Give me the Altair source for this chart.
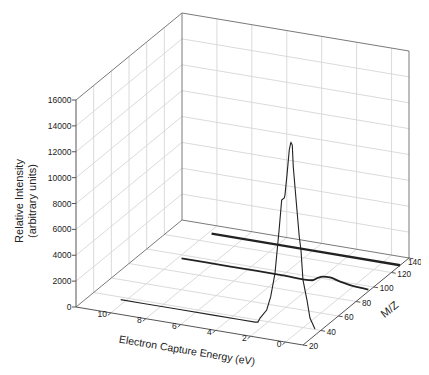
import altair as alt
import numpy as np
import pandas as pd

# ---------------- data ----------------
E_MAX, E_MIN = 12, -1          # energy axis runs from 12 (left) to -1 (right)
M_MIN, M_MAX = 20, 140
I_MIN, I_MAX = 0, 16000

energy_ticks = [10, 8, 6, 4, 2, 0]
mz_ticks = [20, 40, 60, 80, 100, 120, 140]
intensity_ticks = [0, 2000, 4000, 6000, 8000, 10000, 12000, 14000, 16000]

# front trace (large resonance)
s1_mz = 37
s1_energy = [10.3, 9.0, 7.0, 5.0, 3.5, 2.6, 2.44, 2.32, 1.94, 1.71, 1.465, 1.229,
             1.081, 0.933, 0.893, 0.778, 0.647, 0.566, 0.549, 0.474, 0.417, 0.320,
             0.222, 0.074, -0.024, -0.138, -0.367, -0.539, -0.826]
s1_intensity = [0, 0, 0, 0, 0, 0, 40, 380, 1090, 2170, 4030, 7430,
                9780, 9970, 10210, 11780, 13750, 14300, 14350, 14170, 12510, 10980,
                9460, 7170, 6170, 3880, 2380, 1030, 240]

# middle trace (small bump)
s2_mz = 96
s2_energy = [9.8, 7.0, 4.0, 2.3, 2.0, 1.7, 1.3, 0.72, 0.15, -0.42, -0.9]
s2_intensity = [0, 0, 0, 0, 250, 410, 440, 250, 116, 40, 0]

# back trace (flat)
s3_mz = 130
s3_energy = [9.8, 4.0, -1.0]
s3_intensity = [0, 0, 0]

# ---------------- view (oblique projection) parameters ----------------
ORIGIN = (76.0, 307.0)      # corner E_MAX, M_MIN, I_MIN
E_AXIS = (227.0, 38.0)      # full energy span
M_AXIS = (106.0, -87.0)     # full M/Z span
I_AXIS = (0.0, -207.0)      # full intensity span


def project(E, M, I):
    E = np.asarray(E, float)
    M = np.asarray(M, float)
    I = np.asarray(I, float)
    a = (E_MAX - E) / (E_MAX - E_MIN)
    b = (M - M_MIN) / (M_MAX - M_MIN)
    c = (I - I_MIN) / (I_MAX - I_MIN)
    x = ORIGIN[0] + a * E_AXIS[0] + b * M_AXIS[0] + c * I_AXIS[0]
    y = ORIGIN[1] + a * E_AXIS[1] + b * M_AXIS[1] + c * I_AXIS[1]
    return x, y


def segs(rows, kind):
    out = []
    for (e1, m1, i1, e2, m2, i2) in rows:
        x1, y1 = project(e1, m1, i1)
        x2, y2 = project(e2, m2, i2)
        out.append(dict(x=float(x1), y=float(y1), x2=float(x2), y2=float(y2), kind=kind))
    return out


grid = []
for e in energy_ticks:
    grid.append((e, M_MIN, I_MIN, e, M_MAX, I_MIN))          # floor
    grid.append((e, M_MAX, I_MIN, e, M_MAX, I_MAX))          # back wall
for m in mz_ticks[1:-1]:
    grid.append((E_MAX, m, I_MIN, E_MIN, m, I_MIN))          # floor
    grid.append((E_MAX, m, I_MIN, E_MAX, m, I_MAX))          # left wall
for i in intensity_ticks[1:-1]:
    grid.append((E_MAX, M_MIN, i, E_MAX, M_MAX, i))          # left wall
    grid.append((E_MAX, M_MAX, i, E_MIN, M_MAX, i))          # back wall

edges = [
    (E_MAX, M_MAX, I_MIN, E_MAX, M_MAX, I_MAX),
    (E_MAX, M_MIN, I_MAX, E_MAX, M_MAX, I_MAX),
    (E_MAX, M_MAX, I_MAX, E_MIN, M_MAX, I_MAX),
    (E_MIN, M_MAX, I_MIN, E_MIN, M_MAX, I_MAX),
    (E_MAX, M_MIN, I_MIN, E_MAX, M_MAX, I_MIN),
    (E_MAX, M_MAX, I_MIN, E_MIN, M_MAX, I_MIN),
]
axes = [
    (E_MAX, M_MIN, I_MIN, E_MAX, M_MIN, I_MAX),
    (E_MAX, M_MIN, I_MIN, E_MIN, M_MIN, I_MIN),
    (E_MIN, M_MIN, I_MIN, E_MIN, M_MAX, I_MIN),
]
ticks = []
for e in energy_ticks:
    ticks.append((e, M_MIN, I_MIN, e, M_MIN - 3.5, I_MIN))
for m in mz_ticks:
    ticks.append((E_MIN, m, I_MIN, E_MIN - 0.25, m, I_MIN))

seg_df = pd.DataFrame(segs(grid, "grid") + segs(edges, "edge") + segs(axes, "axis") + segs(ticks, "tick"))

# intensity ticks (horizontal, pointing left)
zt = []
for i in intensity_ticks:
    x, y = project(E_MAX, M_MIN, i)
    zt.append(dict(x=float(x), y=float(y), x2=float(x) - 4, y2=float(y), kind="tick"))
seg_df = pd.concat([seg_df, pd.DataFrame(zt)], ignore_index=True)


def series_df(energy, intensity, mz):
    x, y = project(energy, [mz] * len(energy), intensity)
    return pd.DataFrame({"x": x, "y": y, "idx": range(len(energy))})


s1_df = series_df(s1_energy, s1_intensity, s1_mz)
s2_df = series_df(s2_energy, s2_intensity, s2_mz)
s3_df = series_df(s3_energy, s3_intensity, s3_mz)

# tick labels
ex, ey = project(energy_ticks, [M_MIN] * len(energy_ticks), [I_MIN] * len(energy_ticks))
e_lab = pd.DataFrame({"x": ex - 4, "y": ey + 1.5, "t": [str(v) for v in energy_ticks]})
mx, my = project([E_MIN] * len(mz_ticks), mz_ticks, [I_MIN] * len(mz_ticks))
m_dx = np.array([6.0] * (len(mz_ticks) - 1) + [-1.0])   # last label tucked in to stay on the page
m_dy = np.array([2.0] * (len(mz_ticks) - 1) + [4.5])
m_lab = pd.DataFrame({"x": mx + m_dx, "y": my + m_dy, "t": [str(v) for v in mz_ticks]})
zx, zy = project([E_MAX] * len(intensity_ticks), [M_MIN] * len(intensity_ticks), intensity_ticks)
z_lab = pd.DataFrame({"x": zx - 4.5, "y": zy, "t": [str(v) for v in intensity_ticks]})

FONT = "Liberation Sans"
W, H = 413, 359
xs = alt.Scale(domain=[8, 8 + W], nice=False, zero=False)
ys = alt.Scale(domain=[8, 8 + H], nice=False, zero=False, reverse=True)


def XY(extra=True):
    enc = dict(x=alt.X("x:Q", scale=xs, axis=None), y=alt.Y("y:Q", scale=ys, axis=None))
    if extra:
        enc.update(x2="x2:Q", y2="y2:Q")
    return enc


def rule_layer(kind, color, width):
    return alt.Chart(seg_df).transform_filter(alt.datum.kind == kind).mark_rule(
        color=color, strokeWidth=width).encode(**XY())


layers = [
    rule_layer("grid", "#d6d6d6", 0.9),
    rule_layer("edge", "#7a7a7a", 1.0),
    rule_layer("axis", "#555555", 1.0),
    rule_layer("tick", "#555555", 1.0),
    alt.Chart(s3_df).mark_line(color="#222222", strokeWidth=2.3).encode(
        order="idx:Q", **XY(False)),
    alt.Chart(s2_df).mark_line(color="#222222", strokeWidth=1.8, interpolate="monotone").encode(
        order="idx:Q", **XY(False)),
    alt.Chart(s1_df).mark_line(color="#222222", strokeWidth=1.1).encode(
        order="idx:Q", **XY(False)),
    alt.Chart(e_lab).mark_text(font=FONT, fontSize=8.5, align="right", baseline="middle",
                               color="#222222").encode(text="t:N", **XY(False)),
    alt.Chart(m_lab).mark_text(font=FONT, fontSize=8.3, align="left", baseline="middle",
                               color="#222222").encode(text="t:N", **XY(False)),
    alt.Chart(z_lab).mark_text(font=FONT, fontSize=8.5, align="right", baseline="middle",
                               color="#222222").encode(text="t:N", **XY(False)),
]

titles = pd.DataFrame([
    dict(x=20, y=201, t="Relative Intensity", a=270, s=11),
    dict(x=33, y=201, t="(arbitrary units)", a=270, s=11),
    dict(x=187, y=351, t="Electron Capture Energy (eV)", a=9.5, s=10.5),
    dict(x=390, y=310, t="M/Z", a=321, s=11),
])
for _, r in titles.iterrows():
    layers.append(
        alt.Chart(pd.DataFrame([r])).mark_text(font=FONT, fontSize=float(r["s"]), align="center",
                                                baseline="middle", angle=float(r["a"]),
                                                color="#222222").encode(text="t:N", **XY(False))
    )

chart = alt.layer(*layers).properties(
    width=W, height=H, padding=0,
    autosize=alt.AutoSizeParams(type="none"),
).configure_view(stroke=None)

chart.save("out.html", embed_options={"renderer": "svg", "actions": False})
